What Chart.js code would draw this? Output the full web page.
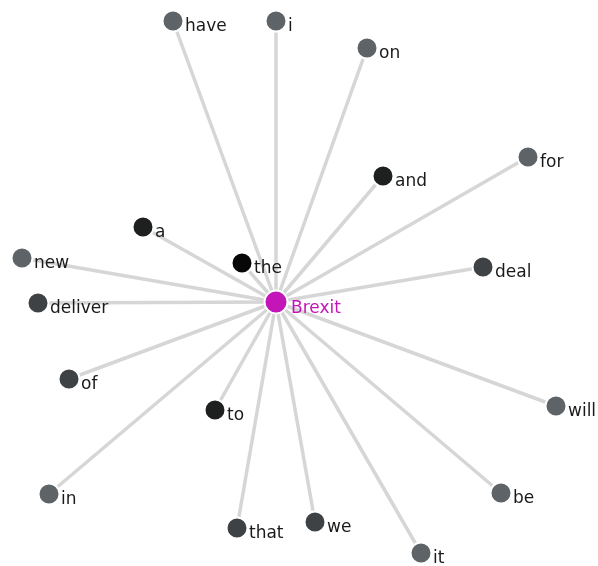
<!DOCTYPE html>
<html>
<head>
<meta charset="utf-8">
<script src="https://cdn.jsdelivr.net/npm/chart.js@4/dist/chart.umd.min.js"></script>
<style>
html,body{margin:0;padding:0;background:#fff;}
#wrap{width:598px;height:566px;position:relative;}
</style>
</head>
<body>
<div id="wrap"><canvas id="c" width="598" height="566"></canvas></div>
<script>
// Central node
const centerWord = "Brexit";
const centerX = 276;
const centerY = 302;

// Connected words and their layout coordinates
const words  = ["have","i","on","and","for","deal","a","the","new","deliver","of","to","in","that","we","it","be","will"];
const xVals  = [173, 276, 367, 383, 528, 483, 143, 242, 22, 38, 69, 215, 49, 237, 315, 421, 501, 556];
const yVals  = [21, 21, 48, 176, 157, 267, 227, 263, 258, 303, 379, 410, 494, 528, 522, 553, 493, 406];
// Shade level of each word node (0 = darkest)
const levels = [2, 2, 2, 0, 2, 1, 0, 0, 2, 1, 1, 0, 2, 1, 1, 2, 2, 2];

const levelColors = ["#1e2020", "#3e4245", "#5d6367"];
const nodeColors = levels.map((l, i) => words[i] === "the" ? "#070707" : levelColors[l]);

const edgeSets = words.map((w, i) => ({
  type: 'scatter',
  data: [{x: centerX, y: centerY}, {x: xVals[i], y: yVals[i]}],
  showLine: true,
  borderColor: "#d6d6d6",
  borderWidth: 3.5,
  pointRadius: 0,
  order: 3
}));

const nodeSet = {
  type: 'scatter',
  data: words.map((w, i) => ({x: xVals[i], y: yVals[i]})),
  pointRadius: 10.5,
  pointBackgroundColor: nodeColors,
  pointBorderColor: "#ffffff",
  pointBorderWidth: 2,
  order: 2
};

const centerSet = {
  type: 'scatter',
  data: [{x: centerX, y: centerY}],
  pointRadius: 11.5,
  pointBackgroundColor: "#c416b8",
  pointBorderColor: "#ffffff",
  pointBorderWidth: 2,
  order: 1
};

const labelPlugin = {
  id: 'labels',
  afterDatasetsDraw(chart) {
    const ctx = chart.ctx;
    const xs = chart.scales.x, ys = chart.scales.y;
    ctx.save();
    ctx.font = "17px 'DejaVu Sans'";
    ctx.textBaseline = "alphabetic";
    ctx.textAlign = "left";
    ctx.fillStyle = "#1a1a1a";
    words.forEach((w, i) => {
      ctx.fillText(w, xs.getPixelForValue(xVals[i]) + 12, ys.getPixelForValue(yVals[i]) + 10);
    });
    ctx.fillStyle = "#c416b8";
    ctx.fillText(centerWord, xs.getPixelForValue(centerX) + 15, ys.getPixelForValue(centerY) + 11);
    ctx.restore();
  }
};

new Chart(document.getElementById('c'), {
  type: 'scatter',
  data: { datasets: [...edgeSets, nodeSet, centerSet] },
  options: {
    responsive: false,
    animation: false,
    layout: { padding: 0, autoPadding: false },
    plugins: { legend: { display: false }, tooltip: { enabled: false } },
    scales: {
      x: { type: 'linear', min: 0, max: 598, display: false },
      y: { type: 'linear', min: 0, max: 566, reverse: true, display: false }
    }
  },
  plugins: [labelPlugin]
});
</script>
</body>
</html>
